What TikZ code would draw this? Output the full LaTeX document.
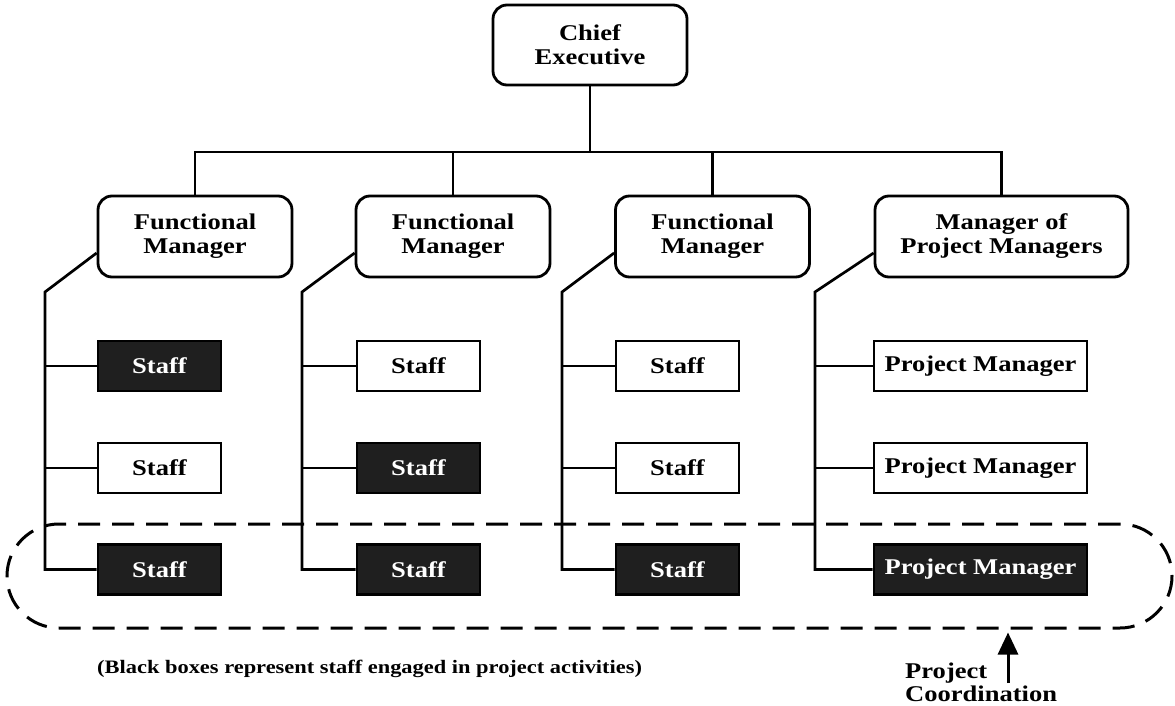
\documentclass[tikz,border=0pt]{standalone}
\usepackage{fontspec}
\setmainfont{Liberation Serif}[FakeStretch=1.18]
\usetikzlibrary{arrows.meta}
\begin{document}
\begin{tikzpicture}[x=1pt,y=-1pt,
  mainfont/.style={font=\bfseries\fontsize{22.5}{24}\selectfont},
  mgr/.style={draw, line width=2.8pt, rounded corners=14pt, minimum width=194pt,
    minimum height=81pt, align=center, inner sep=0pt, mainfont},
  staffw/.style={draw, line width=2.6pt, minimum width=123pt, minimum height=50pt,
    inner sep=0pt, mainfont},
  staffb/.style={staffw, fill=black!88, text=white},
  conn/.style={line width=2.7pt},
  coordbox/.style={draw, line width=3pt, dash pattern=on 22pt off 12pt,
    rounded corners=52pt, minimum width=1165pt, minimum height=104pt, inner sep=0pt},
  note/.style={font=\bfseries\fontsize{19}{22}\selectfont, inner sep=0pt}
]
\useasboundingbox (0,0) rectangle (1175,706);

% top level
\node[mgr, minimum height=80pt] (ceo) at (590,45) {Chief\\Executive};
\node[mgr] (fm1) at (195,236.5) {Functional\\Manager};
\node[mgr] (fm2) at (453,236.5) {Functional\\Manager};
\node[mgr] (fm3) at (712.5,236.5) {Functional\\Manager};
\node[mgr, minimum width=253pt] (pmm) at (1001.5,236.5) {Manager of\\Project Managers};

\coordinate (bar) at (590,152);
\draw[conn] (ceo.south) -- (bar);
\draw[conn] (fm1.north) |- (bar);
\draw[conn] (fm2.north) |- (bar);
\draw[conn] (fm3.north) |- (bar);
\draw[conn] (pmm.north) |- (bar);

% staff boxes
\node[staffb] (s11) at (159.5,366) {Staff};
\node[staffw] (s12) at (159.5,468) {Staff};
\node[staffb] (s13) at (159.5,569.5) {Staff};

\node[staffw] (s21) at (418.5,366) {Staff};
\node[staffb] (s22) at (418.5,468) {Staff};
\node[staffb] (s23) at (418.5,569.5) {Staff};

\node[staffw] (s31) at (677.5,366) {Staff};
\node[staffw] (s32) at (677.5,468) {Staff};
\node[staffb] (s33) at (677.5,569.5) {Staff};

\node[staffw, minimum width=213pt] (s41) at (980.5,366) {Project Manager};
\node[staffw, minimum width=213pt] (s42) at (980.5,468) {Project Manager};
\node[staffb, minimum width=213pt] (s43) at (980.5,569.5) {Project Manager};

% column spines
\coordinate (c1) at (45,292);
\coordinate (c2) at (302,292);
\coordinate (c3) at (562,292);
\coordinate (c4) at (815,292);

\draw[conn] ([yshift=-16.5pt]fm1.west) -- (c1) -- (c1 |- s13.west) -- (s13.west);
\draw[conn] (s11.west) -- (s11.west -| c1);
\draw[conn] (s12.west) -- (s12.west -| c1);

\draw[conn] ([yshift=-16.5pt]fm2.west) -- (c2) -- (c2 |- s23.west) -- (s23.west);
\draw[conn] (s21.west) -- (s21.west -| c2);
\draw[conn] (s22.west) -- (s22.west -| c2);

\draw[conn] ([yshift=-16.5pt]fm3.west) -- (c3) -- (c3 |- s33.west) -- (s33.west);
\draw[conn] (s31.west) -- (s31.west -| c3);
\draw[conn] (s32.west) -- (s32.west -| c3);

\draw[conn] ([yshift=-16.5pt]pmm.west) -- (c4) -- (c4 |- s43.west) -- (s43.west);
\draw[conn] (s41.west) -- (s41.west -| c4);
\draw[conn] (s42.west) -- (s42.west -| c4);

% project coordination
\node[coordbox] (coord) at (589.5,576) {};
\coordinate (atail) at (1008,683);
\draw[line width=3pt, -{Triangle[width=20pt,length=22pt]}] (atail) -- ([yshift=-3pt]atail |- coord.south);

\node[note, anchor=base west] (legend) at (97,673)
  {(Black boxes represent staff engaged in project activities)};
\node[mainfont, inner sep=0pt, anchor=base west] (pc1) at (905,678) {Project};
\node[mainfont, inner sep=0pt, anchor=base west] (pc2) at (905,701) {Coordination};
\end{tikzpicture}
\end{document}
